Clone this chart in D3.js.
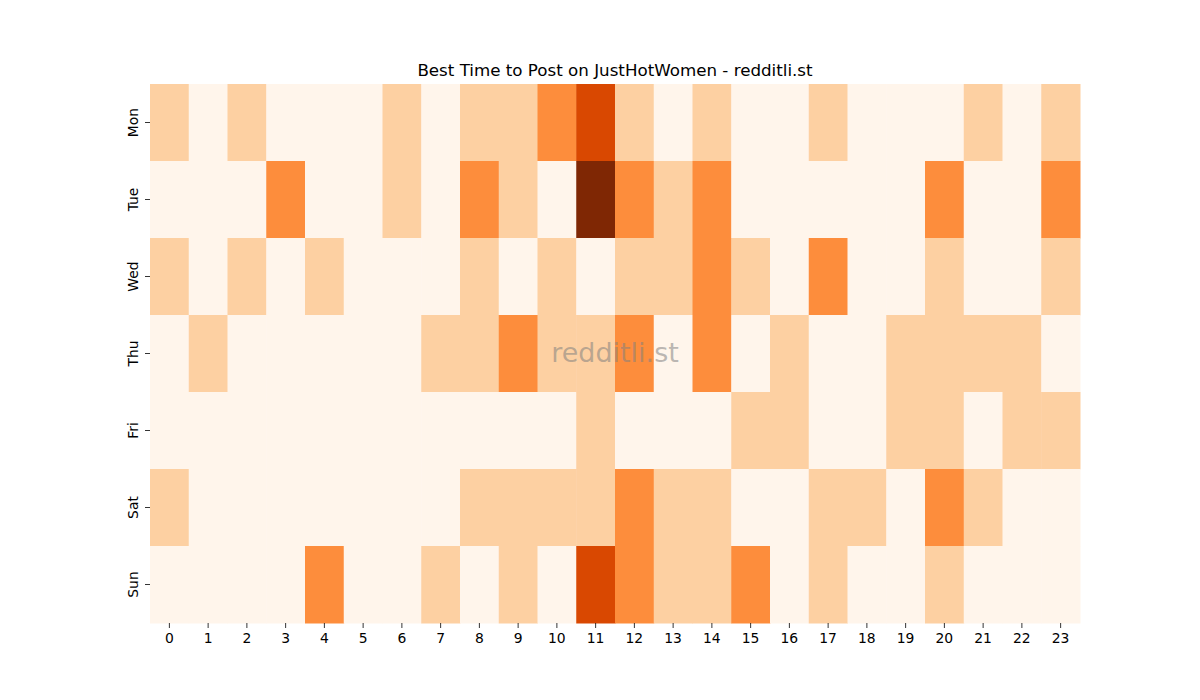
<!DOCTYPE html>
<html><head><meta charset="utf-8">
<script src="https://cdn.jsdelivr.net/npm/d3@7"></script>
<style>
html,body{margin:0;padding:0;background:#fff;}
svg{display:block;font-family:"DejaVu Sans",sans-serif;}
</style></head>
<body>
<svg id="chart" width="1200" height="700"></svg>
<script>
const days = ["Mon","Tue","Wed","Thu","Fri","Sat","Sun"];
const hours = d3.range(24).map(String);
const mon = [1,0,1,0,0,0,1,0,1,1,2,3,1,0,1,0,0,1,0,0,0,1,0,1];
const tue = [0,0,0,2,0,0,1,0,2,1,0,4,2,1,2,0,0,0,0,0,2,0,0,2];
const wed = [1,0,1,0,1,0,0,0,1,0,1,0,1,1,2,1,0,2,0,0,1,0,0,1];
const thu = [0,1,0,0,0,0,0,1,1,2,1,1,2,0,2,0,1,0,0,1,1,1,1,0];
const fri = [0,0,0,0,0,0,0,0,0,0,0,1,0,0,0,1,1,0,0,1,1,0,1,1];
const sat = [1,0,0,0,0,0,0,0,1,1,1,1,2,1,1,0,0,1,1,0,2,1,0,0];
const sun = [0,0,0,0,2,0,0,1,0,1,0,3,2,1,1,2,0,1,0,0,1,0,0,0];
const rows = [mon,tue,wed,thu,fri,sat,sun];
const title = "Best Time to Post on JustHotWomen - redditli.st";
const watermark = "redditli.st";

const cells = [];
rows.forEach((r,i)=>r.forEach((v,j)=>cells.push({day:days[i],hour:hours[j],v})));

const svg = d3.select("#chart");
const pL=150,pR=1080,pT=84,pB=623;
const x = d3.scaleBand().domain(hours).range([pL,pR]);
const y = d3.scaleBand().domain(days).range([pT,pB]);
const color = d3.scaleLinear().domain([0,1,2,3,4])
  .range(["#fff5eb","#fdd0a2","#fd8d3c","#d94801","#7f2704"]);

svg.append("g").selectAll("rect").data(cells).join("rect")
  .attr("x",d=>x(d.hour)).attr("y",d=>y(d.day))
  .attr("width",x.bandwidth()+0.5).attr("height",y.bandwidth()+0.5)
  .attr("fill",d=>color(d.v));

const xa = svg.append("g").attr("transform",`translate(0,${pB})`)
  .call(d3.axisBottom(x).tickSize(5).tickPadding(5));
xa.select(".domain").remove();
xa.selectAll("text").attr("font-size","13.9px").attr("font-family","DejaVu Sans").attr("fill","#000");
xa.selectAll("line").attr("stroke","#000").attr("stroke-width",0.8);

const ya = svg.append("g").attr("transform",`translate(${pL},0)`)
  .call(d3.axisLeft(y).tickSize(5).tickPadding(5));
ya.select(".domain").remove();
ya.selectAll("line").attr("stroke","#000").attr("stroke-width",0.8);
ya.selectAll("text").attr("font-size","13.9px").attr("font-family","DejaVu Sans").attr("fill","#000")
  .attr("text-anchor","middle").attr("dy",null).attr("x",null)
  .attr("transform","translate(-17,0) rotate(-90)").attr("dominant-baseline","central");

svg.append("text").attr("x",(pL+pR)/2).attr("y",76)
  .attr("text-anchor","middle").attr("font-size","16.7px").attr("fill","#000").text(title);

svg.append("text").attr("x",615).attr("y",352).attr("text-anchor","middle")
  .attr("dominant-baseline","central").attr("font-size","27px")
  .attr("fill","#808080").attr("fill-opacity",0.55).text(watermark);
</script>
</body></html>
